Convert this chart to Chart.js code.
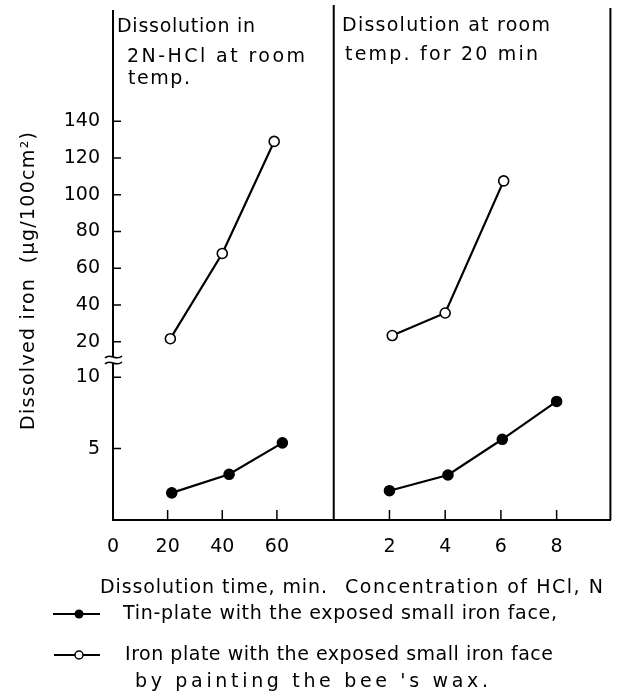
<!DOCTYPE html>
<html>
<head>
<meta charset="utf-8">
<script src="https://cdn.jsdelivr.net/npm/chart.js@4/dist/chart.umd.min.js"></script>
<style>
  html, body { margin: 0; padding: 0; background: #fff; }
  canvas { display: block; }
</style>
</head>
<body>
<canvas id="ironChart" width="617" height="691"></canvas>
<script>
// left panel: dissolution time (min)
const timeTicks = [0, 20, 40, 60];
const timeIronX = [21, 40, 59];
const timeIronY = [21.6, 68, 129];
const timeTinX = [21.5, 42.5, 62];
const timeTinY = [1.9, 3.2, 5.4];

// right panel: HCl concentration (N)
const concTicks = [2, 4, 6, 8];
const concIronX = [2.1, 4.0, 6.1];
const concIronY = [23.3, 35.6, 107.5];
const concTinX = [2.0, 4.1, 6.05, 8.0];
const concTinY = [2.05, 3.15, 5.65, 8.3];

// broken y axis
const upperTicks = [20, 40, 60, 80, 100, 120, 140];
const lowerTicks = [5, 10];

const panelTitles = [
    ["Dissolution in", "2N-HCl at room", "temp."],
    ["Dissolution at room", "temp. for 20 min"],
];
const xTitles = ["Dissolution time, min.", "Concentration of HCl, N"];
const yTitle = "Dissolved iron  (\u03bcg/100cm\u00b2)";
const legendLines = [
    "Tin-plate with the exposed small iron face,",
    "Iron plate with the exposed small iron face",
    "by painting the bee 's wax.",
];

const FONT = "'DejaVu Sans', sans-serif";
Chart.defaults.font.family = FONT;
Chart.defaults.color = "#000";

function pts(xs, ys) {
    return xs.map((x, i) => ({ x: x, y: ys[i] }));
}

function series(label, data, xId, yId, open) {
    return {
        label,
        data,
        xAxisID: xId,
        yAxisID: yId,
        borderColor: "#000",
        borderWidth: 2.2,
        pointRadius: 5,
        pointBorderWidth: 1.6,
        pointBorderColor: "#000",
        pointBackgroundColor: open ? "#fff" : "#000",
        tension: 0,
    };
}

// draw text stretched with letter spacing to a given width
function spacedText(ctx, str, x, y, width) {
    ctx.letterSpacing = "0px";
    const w0 = ctx.measureText(str).width;
    const n = [...str].length;
    const ls = n > 1 ? (width - w0) / (n - 1) : 0;
    ctx.letterSpacing = ls + "px";
    ctx.textAlign = "left";
    ctx.fillText(str, x, y);
    ctx.letterSpacing = "0px";
}

const decorations = {
    id: "decorations",
    afterDraw(chart) {
        const ctx = chart.ctx;
        const area = chart.chartArea;
        const { xTime, xConc, yHigh, yLow } = chart.scales;
        ctx.save();
        ctx.strokeStyle = "#000";
        ctx.fillStyle = "#000";
        ctx.lineWidth = 2;

        // panel divider and right frame
        ctx.beginPath();
        ctx.moveTo(xConc.left, area.top - 6);
        ctx.lineTo(xConc.left, area.bottom);
        ctx.moveTo(xConc.right, area.top - 3);
        ctx.lineTo(xConc.right, area.bottom);
        ctx.stroke();

        // inward tick marks on the x axes
        ctx.lineWidth = 1.5;
        ctx.beginPath();
        [xTime, xConc].forEach(s => {
            s.ticks.forEach(t => {
                if (t.value === 0) return;
                const px = s.getPixelForValue(t.value);
                ctx.moveTo(px, area.bottom);
                ctx.lineTo(px, area.bottom - 10);
            });
        });
        // inward tick marks on the y axes
        [yHigh, yLow].forEach(s => {
            s.ticks.forEach(t => {
                const py = s.getPixelForValue(t.value);
                ctx.moveTo(area.left, py);
                ctx.lineTo(area.left + 8, py);
            });
        });
        ctx.stroke();

        // axis break
        const by = yLow.top;
        const bx = area.left;
        ctx.fillStyle = "#fff";
        ctx.fillRect(bx - 3, by - 3, 6, 6);
        ctx.lineWidth = 1.5;
        ctx.beginPath();
        [-3, 3].forEach(d => {
            ctx.moveTo(bx - 8, by + d + 1);
            ctx.bezierCurveTo(bx - 3, by + d - 5, bx + 3, by + d + 5, bx + 9, by + d - 1);
        });
        ctx.stroke();

        // texts
        ctx.fillStyle = "#000";
        ctx.textBaseline = "alphabetic";
        ctx.font = "19px " + FONT;
        spacedText(ctx, panelTitles[0][0], 117, 32, 138);
        spacedText(ctx, panelTitles[0][1], 127, 62, 178);
        spacedText(ctx, panelTitles[0][2], 128, 84, 62);
        spacedText(ctx, panelTitles[1][0], 342, 31, 208);
        spacedText(ctx, panelTitles[1][1], 345, 60, 193);

        spacedText(ctx, xTitles[0], 100, 593, 227);
        spacedText(ctx, xTitles[1], 345, 593, 258);

        spacedText(ctx, legendLines[0], 123, 619, 434);
        spacedText(ctx, legendLines[1], 125, 660, 428);
        spacedText(ctx, legendLines[2], 135, 687, 353);

        // y title
        ctx.save();
        ctx.translate(34, 281);
        ctx.rotate(-Math.PI / 2);
        spacedText(ctx, yTitle, -149, 0, 298);
        ctx.restore();

        // legend symbols
        ctx.lineWidth = 2;
        ctx.beginPath();
        ctx.moveTo(53, 614);
        ctx.lineTo(100, 614);
        ctx.moveTo(54, 655);
        ctx.lineTo(100, 655);
        ctx.stroke();
        ctx.beginPath();
        ctx.arc(79, 614, 4.5, 0, Math.PI * 2);
        ctx.fill();
        ctx.beginPath();
        ctx.arc(79, 655, 4, 0, Math.PI * 2);
        ctx.fillStyle = "#fff";
        ctx.fill();
        ctx.lineWidth = 1.5;
        ctx.stroke();

        ctx.restore();
    },
};

const tickFont = { size: 19 };

function noPadding(s) {
    s.paddingTop = 0;
    s.paddingBottom = 0;
    s.paddingLeft = 0;
    s.paddingRight = 0;
}

function xScale(weight, wgt, min, max, ticks) {
    return {
        type: "linear",
        position: "bottom",
        stack: "x",
        stackWeight: weight,
        weight: wgt,
        min,
        max,
        afterBuildTicks: s => { s.ticks = ticks.map(v => ({ value: v })); },
        afterFit: s => { s.height = 40; noPadding(s); },
        grid: { display: false, drawTicks: false },
        border: { display: true, color: "#000", width: 2 },
        ticks: { font: tickFont, padding: 16, maxRotation: 0, autoSkip: false },
    };
}

function yScale(weight, wgt, min, max, ticks) {
    return {
        type: "linear",
        position: "left",
        stack: "y",
        stackWeight: weight,
        weight: wgt,
        min,
        max,
        afterBuildTicks: s => { s.ticks = ticks.map(v => ({ value: v })); },
        afterFit: s => { s.width = 113; noPadding(s); },
        grid: { display: false, drawTicks: false },
        border: { display: true, color: "#000", width: 2 },
        ticks: { font: tickFont, padding: 13, autoSkip: false },
    };
}

new Chart(document.getElementById("ironChart").getContext("2d"), {
    type: "line",
    data: {
        datasets: [
            series("Iron plate (time)", pts(timeIronX, timeIronY), "xTime", "yHigh", true),
            series("Tin-plate (time)", pts(timeTinX, timeTinY), "xTime", "yLow", false),
            series("Iron plate (HCl)", pts(concIronX, concIronY), "xConc", "yHigh", true),
            series("Tin-plate (HCl)", pts(concTinX, concTinY), "xConc", "yLow", false),
        ],
    },
    options: {
        responsive: false,
        animation: false,
        layout: { padding: { left: 0, right: 6, top: 11, bottom: 131 } },
        plugins: {
            legend: { display: false },
            tooltip: { enabled: false },
        },
        scales: {
            xTime: xScale(221, 0, 0, 80.8, timeTicks),
            xConc: xScale(277, 1, 0, 9.93, concTicks),
            yHigh: yScale(349, 1, 10, 200, upperTicks),
            yLow: yScale(160, 0, 0, 11.2, lowerTicks),
        },
    },
    plugins: [decorations],
});
</script>
</body>
</html>
